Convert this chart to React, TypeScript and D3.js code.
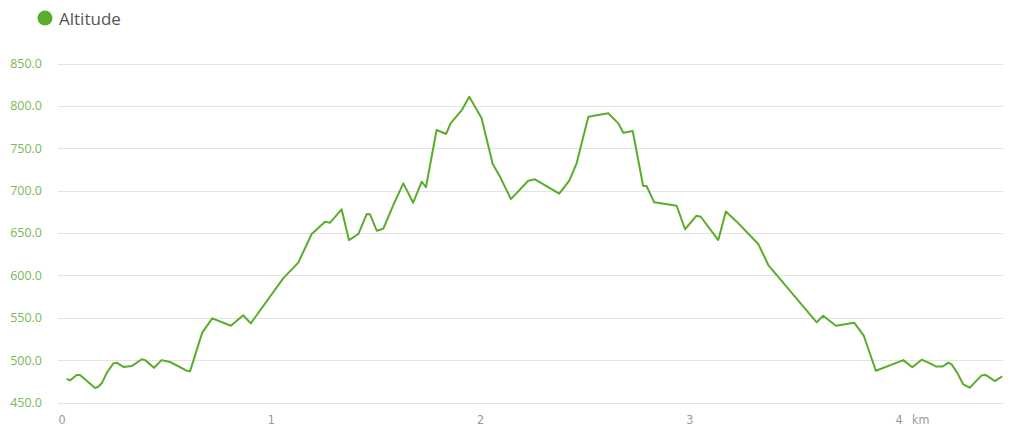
import React from "react";
import * as d3 from "d3";

const distanceKm: number[] = [
  0.022, 0.038, 0.07, 0.086, 0.158, 0.173, 0.19, 0.214, 0.245, 0.261, 0.293, 0.333,
  0.381, 0.397, 0.44, 0.476, 0.516, 0.596, 0.612, 0.67, 0.718, 0.807, 0.866, 0.902,
  1.057, 1.129, 1.193, 1.257, 1.28, 1.336, 1.371, 1.416, 1.456, 1.472, 1.504, 1.535,
  1.583, 1.631, 1.678, 1.719, 1.739, 1.79, 1.835, 1.857, 1.91, 1.946, 2.005, 2.058,
  2.093, 2.145, 2.228, 2.26, 2.376, 2.424, 2.459, 2.515, 2.61, 2.658, 2.682, 2.727,
  2.777, 2.793, 2.83, 2.937, 2.977, 3.032, 3.052, 3.136, 3.172, 3.224, 3.327, 3.375,
  3.606, 3.637, 3.698, 3.785, 3.831, 3.889, 4.02, 4.063, 4.108, 4.14, 4.176, 4.208,
  4.235, 4.251, 4.278, 4.306, 4.338, 4.394, 4.413, 4.458, 4.493,
];

const altitude: number[] = [
  478, 476, 482.5, 482.5, 467, 468.6, 472.6, 485, 496, 497, 492, 493,
  501, 500, 491, 500, 497.8, 487.5, 487, 532.4, 549.3, 540.6, 553, 543.4,
  596.5, 615, 648.8, 663.4, 662, 677.9, 641.7, 648.8, 672.4, 672, 652.7, 655,
  683, 708.6, 685.7, 710.5, 704, 771.5, 766.8, 779.4, 794.9, 810.8, 785.3, 731.4,
  716.4, 690, 711.7, 713.4, 696.4, 711.7, 732.2, 787.2, 791.2, 779.4, 768.4, 770.4,
  705.5, 705.5, 686.2, 682.2, 654.4, 670.4, 669.2, 641.7, 675.3, 663.4, 637, 612.2,
  544.6, 552.4, 540.6, 544.2, 528.8, 487.5, 500, 491.5, 500.5, 497, 492.5, 492.5,
  497, 495, 485, 471.5, 467.5, 482, 482.5, 475.3, 481,
];

const yTicks: number[] = [450, 500, 550, 600, 650, 700, 750, 800, 850];
const xTicks: number[] = [0, 1, 2, 3, 4];
const seriesName = "Altitude";
const xUnit = "km";

const GREEN = "#5aad2b";

export default function App() {
  const width = 1024;
  const height = 438;
  const x = d3.scaleLinear().domain([0, 4.493]).range([62, 1002.3]);
  const y = d3.scaleLinear().domain([450, 850]).range([402.5, 63.5]);
  const pts: [number, number][] = distanceKm.map((d, i) => [d, altitude[i]]);
  const line = d3
    .line<[number, number]>()
    .x((d) => x(d[0]))
    .y((d) => y(d[1]));

  return (
    <svg
      width={width}
      height={height}
      style={{ position: "absolute", left: 0, top: 0, background: "#fff" }}
    >
      <circle cx={45} cy={18} r={7.5} fill={GREEN} />
      <text
        x={59}
        y={24.5}
        fontFamily="'Open Sans', sans-serif"
        fontSize={17}
        fill="#555"
      >
        {seriesName}
      </text>
      {yTicks.map((t) => (
        <g key={t}>
          <line
            x1={58}
            x2={1003}
            y1={Math.round(y(t)) + 0.5}
            y2={Math.round(y(t)) + 0.5}
            stroke="#e3e3e3"
            strokeWidth={1}
          />
          <text
            x={42}
            y={y(t)}
            dy="0.35em"
            textAnchor="end"
            fontFamily="'Open Sans', sans-serif"
            fontSize={12.5}
            fill="#7bb956"
          >
            {t.toFixed(1)}
          </text>
        </g>
      ))}
      {xTicks.map((t) => (
        <text
          key={t}
          x={x(t)}
          y={420}
          dy="0.35em"
          textAnchor="middle"
          fontFamily="'DejaVu Sans Condensed', 'Liberation Sans Narrow', sans-serif"
          fontWeight={300}
          fontSize={12.5}
          fill="#999"
        >
          {t}
        </text>
      ))}
      <text
        x={x(4) + 13}
        y={420}
        dy="0.35em"
        fontFamily="'DejaVu Sans Condensed', 'Liberation Sans Narrow', sans-serif"
        fontSize={12.5}
        fill="#999"
      >
        {xUnit}
      </text>
      <path
        d={line(pts) || ""}
        fill="none"
        stroke={GREEN}
        strokeWidth={2}
        strokeLinejoin="round"
      />
    </svg>
  );
}
